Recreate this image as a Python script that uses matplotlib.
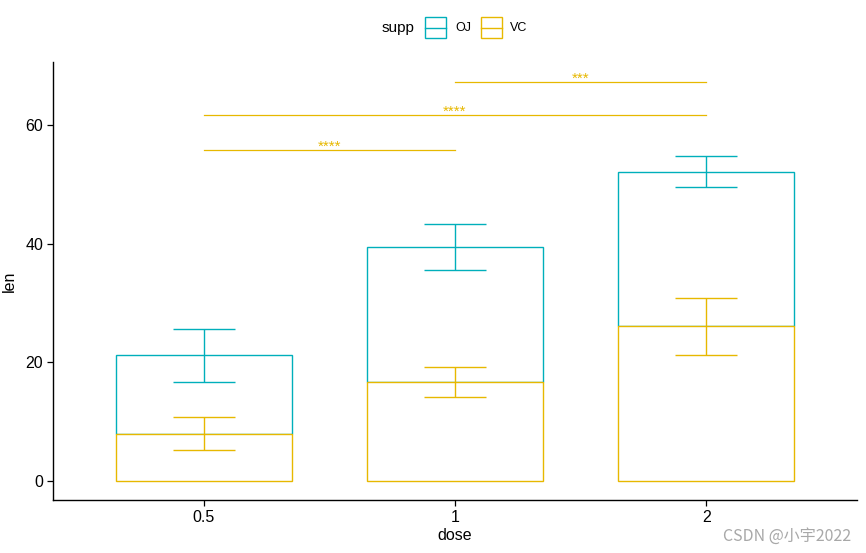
import matplotlib
matplotlib.use('Agg')
import matplotlib.pyplot as plt
from matplotlib.patches import Rectangle
from matplotlib.lines import Line2D

# ToothGrowth summary (mean, sd) by dose and supp
doses = ['0.5', '1', '2']
supp = ['OJ', 'VC']
mean_oj = [13.23, 22.70, 26.06]
mean_vc = [7.98, 16.77, 26.14]
sd_oj = [4.46, 3.91, 2.66]
sd_vc = [2.75, 2.52, 4.80]
colors = {'OJ': '#00AFBB', 'VC': '#E7B800'}
comparisons = [(0, 1, '****'), (0, 2, '****'), (1, 2, '***')]
comp_y = [55.9, 61.7, 67.3]

plt.rcParams['font.family'] = ['Liberation Sans', 'DejaVu Sans']

W, H = 866, 553
fig = plt.figure(figsize=(W / 100, H / 100), dpi=100)
ax = fig.add_axes([53 / W, 1 - 500 / H, (857 - 53) / W, (500 - 62) / H])

x = list(range(len(doses)))
bw = 0.7
cap = 0.15
lw = 1.0

top_vc = mean_vc
top_oj = [v + o for v, o in zip(mean_vc, mean_oj)]

# OJ on top of VC (draw OJ first so VC edge appears on boundary)
ax.bar(x, mean_oj, bottom=mean_vc, width=bw, facecolor='white',
       edgecolor=colors['OJ'], linewidth=lw, zorder=2)
ax.bar(x, mean_vc, width=bw, facecolor='white',
       edgecolor=colors['VC'], linewidth=lw, zorder=3)

ax.errorbar(x, top_oj, yerr=sd_oj, fmt='none', ecolor=colors['OJ'],
            elinewidth=lw, capsize=0, zorder=4)
ax.errorbar(x, top_vc, yerr=sd_vc, fmt='none', ecolor=colors['VC'],
            elinewidth=lw, capsize=0, zorder=4)
for xi, t, s in zip(x, top_oj, sd_oj):
    ax.hlines([t - s, t + s], xi - cap / 2 * 1.65, xi + cap / 2 * 1.65,
              colors=colors['OJ'], linewidth=lw, zorder=4)
for xi, t, s in zip(x, top_vc, sd_vc):
    ax.hlines([t - s, t + s], xi - cap / 2 * 1.65, xi + cap / 2 * 1.65,
              colors=colors['VC'], linewidth=lw, zorder=4)

for (a, b, lab), yy in zip(comparisons, comp_y):
    ax.plot([a, b], [yy, yy], color=colors['VC'], linewidth=0.9, zorder=5)
    ax.text((a + b) / 2, yy - 0.1, lab, color=colors['VC'], fontsize=11,
            ha='center', va='baseline', zorder=6)

ax.set_xlim(-0.6, 2.6)
ax.set_ylim(-3.2, 70.7)
ax.set_xticks(x)
ax.set_xticklabels(doses)
ax.set_yticks([0, 20, 40, 60])
ax.tick_params(axis='both', labelsize=11.5, length=4, width=0.9,
               colors='black', pad=3)
for sp in ['top', 'right']:
    ax.spines[sp].set_visible(False)
for sp in ['left', 'bottom']:
    ax.spines[sp].set_linewidth(1.0)
ax.set_xlabel('dose', fontsize=11.5, labelpad=2)
ax.set_ylabel('len', fontsize=11.5, labelpad=6)

# Legend at top (manual, in pixel -> figure coords)
def fx(px):
    return px / W

def fy(py):
    return 1 - py / H

fig.text(fx(382), fy(28), 'supp', fontsize=11, va='center', ha='left')
for key_left, text_left, s in [(425, 455, 'OJ'), (481, 510, 'VC')]:
    fig.patches.append(Rectangle((fx(key_left), fy(38)), 21 / W, 21 / H,
                                 transform=fig.transFigure, fill=False,
                                 edgecolor=colors[s], linewidth=1.0))
    fig.lines.append(Line2D([fx(key_left), fx(key_left + 21)], [fy(27.5), fy(27.5)],
                            transform=fig.transFigure, color=colors[s], linewidth=1.0))
    fig.text(fx(text_left), fy(28), s, fontsize=9, va='center', ha='left')

fig.text(fx(851), fy(536), 'CSDN @小宇2022', fontsize=11.5, color='#a8a8a8',
         ha='right', va='center', family=['Noto Sans CJK SC', 'DejaVu Sans'])

fig.savefig('out.png', dpi=100)
